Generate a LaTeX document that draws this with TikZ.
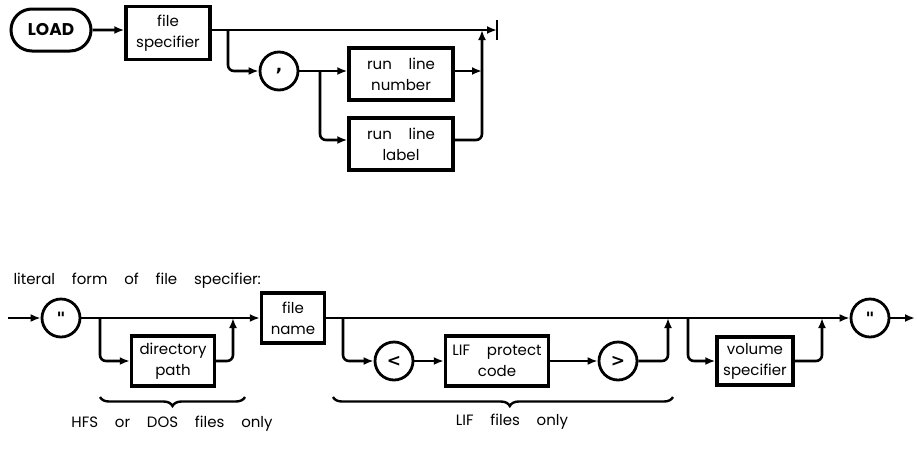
\documentclass[tikz,border=0pt]{standalone}
\usepackage{fontspec}
\setmainfont[WordSpace=4.2]{Poppins}
\newfontfamily\symf{DejaVu Sans}
\usetikzlibrary{arrows.meta,shapes.misc,decorations.pathreplacing}
\begin{document}
\begin{tikzpicture}[x=1pt,y=-1pt,
  conn/.style={line width=2.6pt, rounded corners=6pt},
  arr/.style={conn, -{Latex[length=10pt,width=8pt]}},
  box/.style={draw, line width=3.4pt, align=center, inner sep=1pt,
    font=\fontsize{15}{21}\selectfont},
  term/.style={draw, circle, line width=2.8pt, minimum size=38pt, inner sep=0pt,
    font=\symf\fontsize{17}{17}\selectfont\bfseries},
  brc/.style={line width=2.4pt, decorate, decoration={brace, mirror, amplitude=9pt}},
  lbl/.style={font=\fontsize{15}{17}\selectfont}]
\useasboundingbox (0,0) rectangle (917,448);
% ---------- top diagram ----------
\node[draw, rounded rectangle, line width=3pt, minimum width=80pt, minimum height=42pt,
  inner sep=0pt, font=\fontsize{17}{17}\selectfont\bfseries] (load) at (51,30) {LOAD};
\node[box, minimum width=84pt, minimum height=53pt] (fs) at (168,33) {file\\specifier};
\coordinate (endc) at (497,30);
\coordinate (b1) at (228,30);
\node[term] (comma) at (279,71) {,};
\coordinate (b2) at (320,71);
\node[box, minimum width=104pt, minimum height=52pt] (rln) at (401,74) {run line\\number};
\node[box, minimum width=104pt, minimum height=52pt] (rll) at (401,144) {run line\\label};
\coordinate (j1) at (482,71);
\coordinate (j2) at (482,30);

\draw[arr] (load) -- (load -| fs.west);
\draw[arr] (fs.east |- load) -- (endc);
\draw[line width=2.6pt] ([yshift=10pt]endc) -- ([yshift=-10pt]endc);
\draw[arr] (b1) |- (comma);
\draw[arr] (comma) -- (comma -| rln.west);
\draw[arr] (b2) |- (rll.west |- 0,140);
\draw[arr] (rln.east |- comma) -- (j1);
\draw[arr] (rll.east |- 0,140) -| (j2);

% ---------- bottom diagram ----------
\node[lbl, anchor=west] (title) at (10,281) {literal form of file specifier:};
\coordinate (s0) at (8,318);
\node[term] (q1) at (61,318) {"};
\node[box, minimum width=63pt, minimum height=50pt] (fn) at (293,318) {file\\name};
\coordinate (b3) at (100,318);
\node[box, minimum width=83pt, minimum height=50pt] (dp) at (173,361) {directory\\path};
\coordinate (j3) at (233,318);
\coordinate (b4) at (343,318);
\node[term] (lt) at (394,361) {<};
\node[box, minimum width=103pt, minimum height=50pt] (lpc) at (497,361) {LIF protect\\code};
\node[term] (gt) at (618,361) {>};
\coordinate (j4) at (668,318);
\coordinate (b5) at (688,318);
\node[box, minimum width=76pt, minimum height=48pt] (vs) at (755,361) {volume\\specifier};
\coordinate (j5) at (822,318);
\node[term] (q2) at (870,318) {"};
\coordinate (e1) at (915,318);

\draw[arr] (s0) -- (q1);
\draw[arr] (q1) -- (fn);
\draw[arr] (b3) |- (dp);
\draw[arr] (dp) -| (j3);
\draw[arr] (fn) -- (q2);
\draw[arr] (b4) |- (lt);
\draw[arr] (lt) -- (lpc);
\draw[arr] (lpc) -- (gt);
\draw[arr] (gt) -| (j4);
\draw[arr] (b5) |- (vs);
\draw[arr] (vs) -| (j5);
\draw[arr] (q2) -- (e1);

% braces
\coordinate (br1a) at (100,397);
\coordinate (br1b) at (245,397);
\coordinate (br2a) at (333,397);
\coordinate (br2b) at (673,397);
\draw[brc] (br1a) -- (br1b);
\draw[brc, decoration={aspect=0.52}] (br2a) -- (br2b);
\node[lbl] (t1) at (172,424) {HFS or DOS files only};
\node[lbl] (t2) at (512,422) {LIF files only};
\end{tikzpicture}
\end{document}
